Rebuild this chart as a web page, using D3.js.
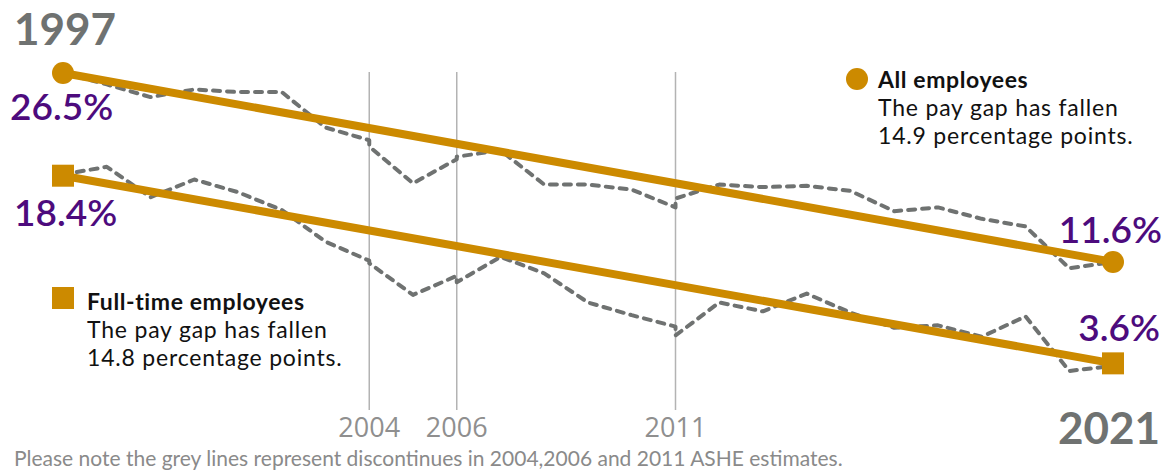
<!DOCTYPE html>
<html>
<head>
<meta charset="utf-8">
<script src="https://cdn.jsdelivr.net/npm/d3@7"></script>
<style>
  html, body { margin: 0; padding: 0; background: #fff; }
  svg { display: block; }
  text { font-family: Lato, "Open Sans", sans-serif; }
</style>
</head>
<body>
<svg id="chart" width="1167" height="473"></svg>
<script>
// Gender pay gap (%), annual ASHE estimates; discontinuity years appear twice
const years = [1997, 1998, 1999, 2000, 2001, 2002, 2003, 2004, 2004, 2005, 2006, 2006,
               2007, 2008, 2009, 2010, 2011, 2011, 2012, 2013, 2014, 2015, 2016, 2017,
               2018, 2019, 2020, 2021];
const allEmployees = [26.5, 25.6, 24.6, 25.2, 25.0, 25.0, 22.2, 21.2, 20.7, 17.8, 19.7, 19.9,
                      20.4, 17.7, 17.7, 17.3, 15.9, 16.6, 17.7, 17.5, 17.6, 17.2, 15.6, 15.9,
                      15.0, 14.4, 11.1, 11.6];
const fullTime = [18.5, 19.1, 16.7, 18.1, 17.1, 15.7, 13.2, 11.7, 11.5, 9.0, 10.5, 10.0,
                  12.0, 10.7, 8.4, 7.4, 6.5, 5.8, 8.4, 7.7, 9.1, 7.6, 6.4, 6.6,
                  5.7, 7.3, 3.0, 3.4];

// Trend between the first and last year
const trendYears = [1997, 2021];
const trendAll = [26.5, 11.6];
const trendFullTime = [18.4, 3.6];

// Years where the survey series is discontinuous
const breakYears = [2004, 2006, 2011];

const legendAll = ["All employees", "The pay gap has fallen", "14.9 percentage points."];
const legendFullTime = ["Full-time employees", "The pay gap has fallen", "14.8 percentage points."];
const footnote = "Please note the grey lines represent discontinues in 2004,2006 and 2011 ASHE estimates.";

const gold = "#cc8a00";
const purple = "#4d0b7d";
const grey = "#6f7271";

const svg = d3.select("#chart");

const x = d3.scaleLinear().domain([1997, 2021]).range([63, 1113]);
const y = d3.scaleLinear().domain([0, 26.5]).range([409, 73]);

// Break markers
svg.append("g").selectAll("line").data(breakYears).join("line")
  .attr("x1", d => x(d)).attr("x2", d => x(d))
  .attr("y1", 72).attr("y2", 410)
  .attr("stroke", "#b3b3b3").attr("stroke-width", 1.5);

svg.append("g").selectAll("text").data(breakYears).join("text")
  .attr("x", d => x(d)).attr("y", 437)
  .attr("text-anchor", "middle")
  .style("font-family", "'Liberation Sans Narrow', 'Open Sans', sans-serif")
  .style("font-size", "27px")
  .attr("fill", "#8f8f8f")
  .text(d => d);

// Annual series (dashed)
const line = d3.line().x(d => x(d[0])).y(d => y(d[1]));
[allEmployees, fullTime].forEach(series => {
  svg.append("path")
    .datum(years.map((yr, i) => [yr, series[i]]))
    .attr("d", line)
    .attr("fill", "none")
    .attr("stroke", grey)
    .attr("stroke-width", 4)
    .attr("stroke-dasharray", "7,7")
    .attr("stroke-linecap", "round")
    .attr("stroke-linejoin", "round");
});

// Trend lines
[trendAll, trendFullTime].forEach(series => {
  svg.append("path")
    .datum(trendYears.map((yr, i) => [yr, series[i]]))
    .attr("d", line)
    .attr("fill", "none")
    .attr("stroke", gold)
    .attr("stroke-width", 8);
});

// End markers
svg.append("g").selectAll("circle").data(trendYears.map((yr, i) => [yr, trendAll[i]])).join("circle")
  .attr("cx", d => x(d[0])).attr("cy", d => y(d[1])).attr("r", 11).attr("fill", gold);
svg.append("g").selectAll("rect").data(trendYears.map((yr, i) => [yr, trendFullTime[i]])).join("rect")
  .attr("x", d => x(d[0]) - 11).attr("y", d => y(d[1]) - 11)
  .attr("width", 22).attr("height", 22).attr("fill", gold);

// Value labels
const valueLabel = (txt, xp, yp, anchor) => svg.append("text")
  .attr("x", xp).attr("y", yp).attr("text-anchor", anchor)
  .style("font-size", "37px").style("font-weight", 600)
  .attr("fill", purple).text(txt);
valueLabel(trendAll[0].toFixed(1) + "%", 10, 120, "start");
valueLabel(trendFullTime[0].toFixed(1) + "%", 14, 226, "start");
valueLabel(trendAll[1].toFixed(1) + "%", 1162, 243, "end");
valueLabel(trendFullTime[1].toFixed(1) + "%", 1160, 341, "end");

// Start and end years
svg.append("text").attr("x", 14).attr("y", 45)
  .style("font-size", "44px").style("font-weight", 700)
  .attr("fill", grey).text(trendYears[0]);
svg.append("text").attr("x", 1160).attr("y", 444).attr("text-anchor", "end")
  .style("font-size", "44px").style("font-weight", 700)
  .attr("fill", grey).text(trendYears[1]);

// Legends
function legend(lines, tx, ty, marker) {
  const g = svg.append("g");
  lines.forEach((t, i) => {
    g.append("text")
      .attr("x", tx).attr("y", ty + [0, 28, 56][i])
      .style("font-size", "23px")
      .style("letter-spacing", i === 0 ? "0.6px" : "0.8px")
      .style("font-weight", i === 0 ? 700 : 400)
      .attr("fill", "#111").text(t);
  });
  marker(g);
}
legend(legendAll, 878, 88, g => g.append("circle").attr("cx", 857).attr("cy", 79).attr("r", 11).attr("fill", gold));
legend(legendFullTime, 87, 310, g => g.append("rect").attr("x", 52).attr("y", 287).attr("width", 22).attr("height", 22).attr("fill", gold));

// Footnote
svg.append("text").attr("x", 14).attr("y", 466)
  .style("font-size", "21px").attr("fill", "#8a8a8a").text(footnote);
</script>
</body>
</html>
